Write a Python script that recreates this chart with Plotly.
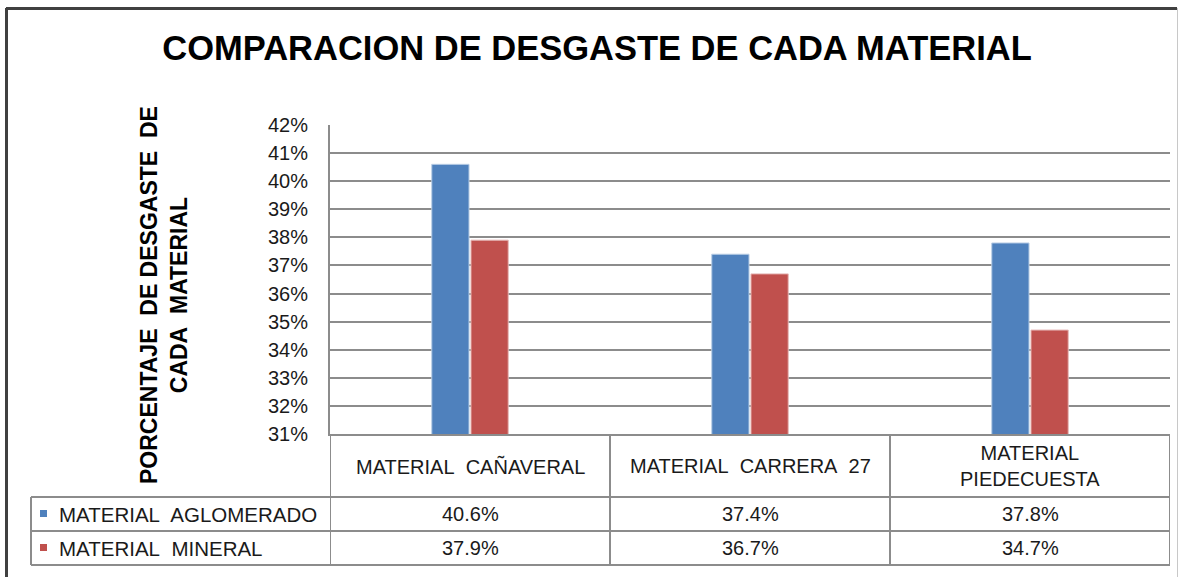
import plotly.graph_objects as go

# data
categories = ["MATERIAL\u00a0 CAÑAVERAL", "MATERIAL\u00a0 CARRERA\u00a0 27", "MATERIAL<br>PIEDECUESTA"]
series_names = ["MATERIAL\u00a0 AGLOMERADO", "MATERIAL\u00a0 MINERAL"]
aglomerado = [0.406, 0.374, 0.378]
mineral = [0.379, 0.367, 0.347]
y_ticks = [0.31, 0.32, 0.33, 0.34, 0.35, 0.36, 0.37, 0.38, 0.39, 0.40, 0.41, 0.42]

W, H = 1179, 577
L, R, T, B = 330, 1170, 125, 434
FONT = "Liberation Sans, Arial, sans-serif"
GRID = "#8c8c8c"
TXT = "#1a1a1a"
colors = ["#4f81bd", "#c0504d"]
edges = ["#b9cde5", "#e6b9b8"]


def px(x):
    return (x - L) / (R - L)


def py(y):
    return (B - y) / (B - T)


fig = go.Figure()
xs = list(range(len(categories)))
for name, vals, c, e in zip(series_names, [aglomerado, mineral], colors, edges):
    fig.add_trace(go.Bar(x=xs, y=vals, name=name, marker=dict(color=c, line=dict(color=e, width=1))))

shapes = []
annotations = []

# table grid
rows = [434, 497, 531, 565]
for x in [-0.5, 0.5, 1.5, 2.5]:
    shapes.append(dict(type="line", xref="x", yref="paper", x0=x, x1=x, y0=py(434), y1=py(565),
                       line=dict(color=GRID, width=2)))
for y in rows[1:]:
    shapes.append(dict(type="line", xref="paper", yref="paper", x0=px(31), x1=px(1170), y0=py(y), y1=py(y),
                       line=dict(color=GRID, width=2)))
shapes.append(dict(type="line", xref="paper", yref="paper", x0=px(31), x1=px(31), y0=py(497), y1=py(565),
                   line=dict(color=GRID, width=2)))

# outer frame
shapes.append(dict(type="line", xref="paper", yref="paper", x0=px(6), x1=px(1177), y0=py(8.5), y1=py(8.5),
                   line=dict(color="#404040", width=3)))
shapes.append(dict(type="line", xref="paper", yref="paper", x0=px(6.5), x1=px(6.5), y0=py(8), y1=py(580),
                   line=dict(color="#404040", width=3)))
shapes.append(dict(type="line", xref="paper", yref="paper", x0=px(1177.5), x1=px(1177.5), y0=py(8), y1=py(580),
                   line=dict(color="#c8c8c8", width=1)))

# header cells
for i, cat in enumerate(categories):
    annotations.append(dict(x=i, y=py(466), xref="x", yref="paper", text=cat, showarrow=False,
                            xanchor="center", yanchor="middle",
                            font=dict(family=FONT, size=20, color=TXT)))

# value rows with legend keys
for r, (name, vals, c) in enumerate(zip(series_names, [aglomerado, mineral], colors)):
    yc = (rows[r + 1] + rows[r + 2]) / 2
    shapes.append(dict(type="rect", xref="paper", yref="paper", x0=px(40), x1=px(47), y0=py(yc - 4), y1=py(yc + 3),
                       fillcolor=c, line=dict(width=0)))
    annotations.append(dict(x=px(57), y=py(yc), xref="paper", yref="paper", text=name, showarrow=False,
                            xanchor="left", yanchor="middle", font=dict(family=FONT, size=20.5, color=TXT)))
    for i, v in enumerate(vals):
        annotations.append(dict(x=i, y=py(yc), xref="x", yref="paper", text=f"{v * 100:.1f}%", showarrow=False,
                                xanchor="center", yanchor="middle",
                                font=dict(family=FONT, size=20, color=TXT)))

# axis title
annotations.append(dict(x=px(164), y=py(295), xref="paper", yref="paper",
                        text="PORCENTAJE\u00a0 DE DESGASTE\u00a0 DE<br>CADA\u00a0 MATERIAL",
                        textangle=-90, showarrow=False, xanchor="center", yanchor="middle",
                        font=dict(family=FONT, size=23, color="black", weight="bold")))

fig.update_layout(
    width=W, height=H,
    margin=dict(l=L, r=W - R, t=T, b=H - B),
    paper_bgcolor="white", plot_bgcolor="white",
    title=dict(text="COMPARACION DE DESGASTE DE CADA MATERIAL", x=597 / W, xref="container", xanchor="center",
               y=1 - 48 / H, yref="container", yanchor="middle",
               font=dict(family=FONT, size=34.5, color="black", weight="bold")),
    barmode="group", bargap=0.72, bargroupgap=0.05,
    showlegend=False,
    shapes=shapes, annotations=annotations,
)
fig.update_xaxes(range=[-0.5, 2.5], showticklabels=False, showgrid=False, zeroline=False,
                 showline=True, linecolor=GRID, linewidth=2)
fig.update_yaxes(range=[0.31, 0.42], tickvals=y_ticks, tickformat=".0%", showgrid=True,
                 gridcolor=GRID, gridwidth=2, zeroline=False, showline=True, linecolor=GRID, linewidth=2,
                 ticks="", ticklabelstandoff=16,
                 tickfont=dict(family=FONT, size=20, color=TXT))

fig.write_html("out.html", config={"displayModeBar": False},
               post_script="document.body.style.margin='0px';")
